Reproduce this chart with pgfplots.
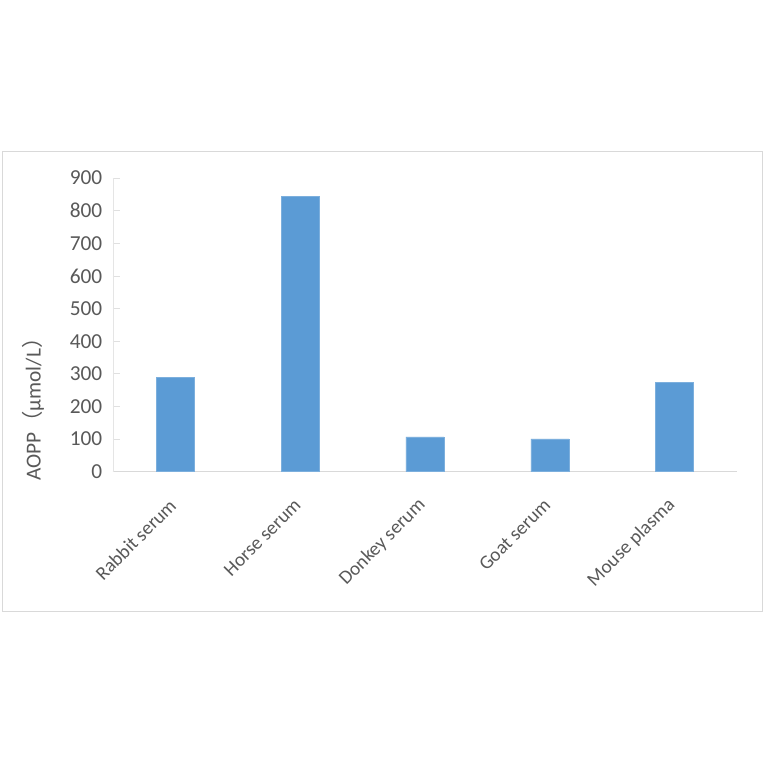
\documentclass[border=0pt]{standalone}
\usepackage{fontspec}
\setmainfont{Carlito}
\newfontfamily\cjk{Noto Sans CJK SC}
\usepackage{pgfplots}
\pgfplotsset{compat=1.18}
\definecolor{barblue}{HTML}{5B9BD5}
\definecolor{txtgray}{HTML}{595959}
\definecolor{framegray}{HTML}{D9D9D9}
\begin{document}
\begin{tikzpicture}[x=1pt,y=1pt]
\fill[white] (0,0) rectangle (573,573);
\draw[framegray, line width=0.75pt] (1.5,114) rectangle (571.5,459);
\begin{axis}[
  at={(84.75pt,219.2pt)}, anchor=south west,
  scale only axis, width=468pt, height=220.3pt,
  xmin=-0.5, xmax=4.5, ymin=0, ymax=900,
  ytick={0,100,...,900},
  xtick={0,1,2,3,4},
  xticklabels={Rabbit serum, Horse serum, Donkey serum, Goat serum, Mouse plasma},
  axis x line*=bottom, axis y line*=left,
  x axis line style={framegray, line width=0.75pt, -},
  y axis line style={black!10, line width=0.6pt, -},
  xtick style={draw=none},
  ytick style={black!12, line width=0.5pt},
  ytick pos=left, tick align=inside, major tick length=5pt,
  /pgf/number format/assume math mode=true,
  tick label style={text=txtgray},
  xticklabel style={font=\fontsize{14.5}{16}\selectfont, xshift=0.5pt, yshift=-15.5pt, rotate=45, anchor=east},
  yticklabel style={font=\fontsize{16}{18}\selectfont, xshift=-4.5pt},
  ylabel={AOPP{\cjk （}μmol/L{\cjk ）}},
  every axis y label/.style={at={(rel axis cs:-0.128,0.23)}, rotate=90, anchor=center,
     font=\fontsize{16}{18}\selectfont, text=txtgray},
  ybar, bar width=28.5pt,
]
\addplot[fill=barblue, draw=barblue!80!white] coordinates {(0,289) (1,843) (2,107) (3,101) (4,274)};
\end{axis}
\end{tikzpicture}
\end{document}
